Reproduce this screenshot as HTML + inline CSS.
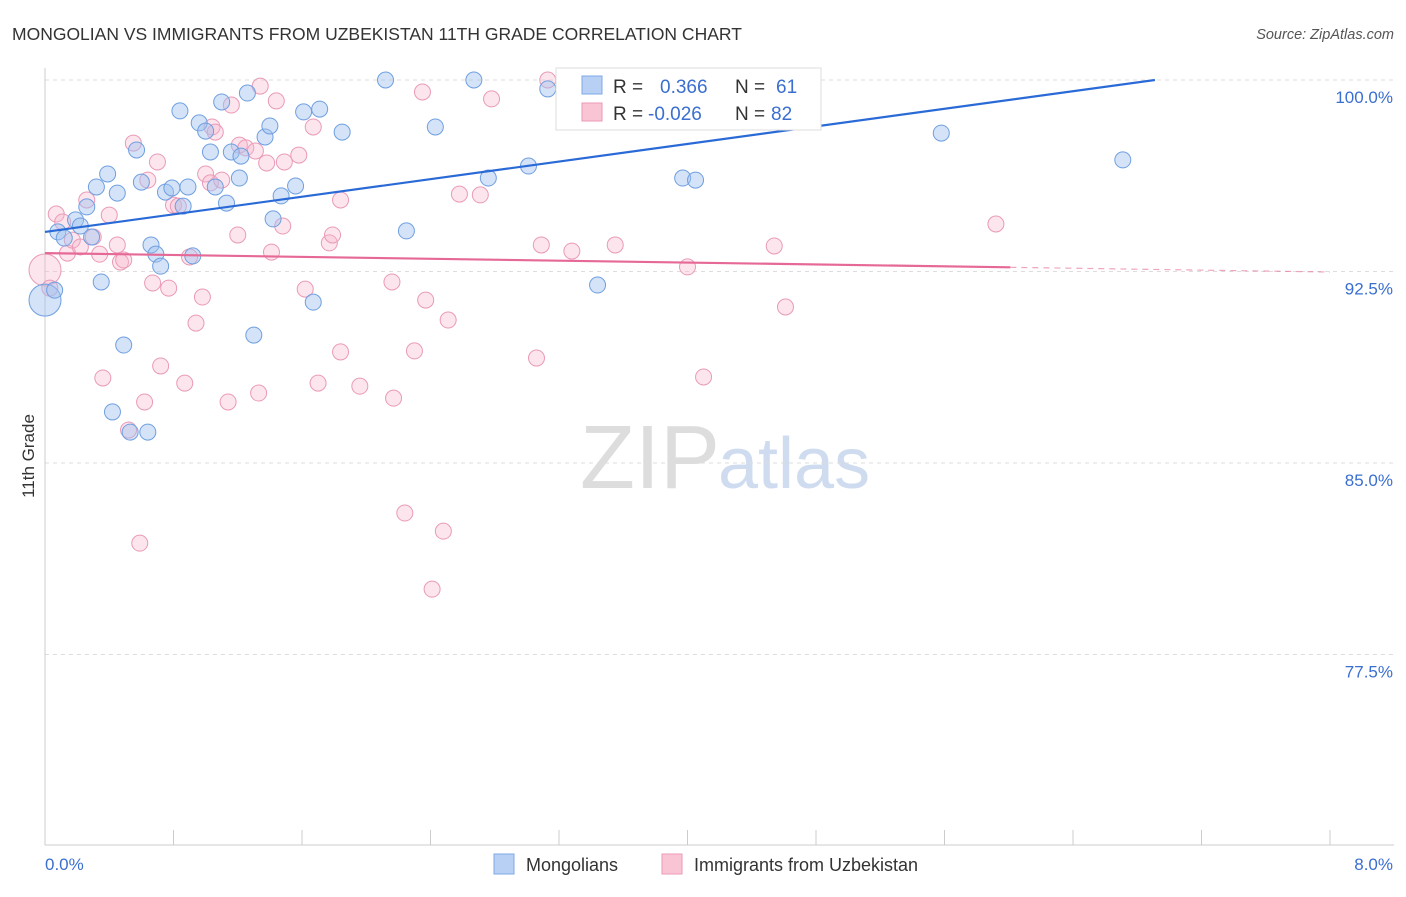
<!DOCTYPE html>
<html><head><meta charset="utf-8"><style>
body{margin:0;background:#fff;font-family:"Liberation Sans",sans-serif;}
svg text{font-family:"Liberation Sans",sans-serif;}
</style></head><body>
<svg id="chart" width="1406" height="892" xmlns="http://www.w3.org/2000/svg">
<text x="12" y="40" font-size="17.5" fill="#333">MONGOLIAN VS IMMIGRANTS FROM UZBEKISTAN 11TH GRADE CORRELATION CHART</text>
<text x="1394" y="39" font-size="14.5" fill="#555" font-style="italic" text-anchor="end">Source: ZipAtlas.com</text>
<text x="720" y="488" font-size="90" fill="#ddd" text-anchor="end" font-family="Liberation Serif">ZIP</text>
<text x="718" y="488" font-size="72" fill="#cfdcf0">atlas</text>
<text transform="translate(34,456) rotate(-90)" font-size="17" fill="#333" text-anchor="middle">11th Grade</text>
<g id="grid"></g><g id="marks"></g><g id="trends"></g>
<g>
<rect x="556" y="68" width="265" height="62" fill="#fff" stroke="#ddd"/>
<rect x="582" y="76" width="20" height="18" fill="#b7d0f3" stroke="#7fa8e6"/>
<rect x="582" y="103" width="20" height="18" fill="#f9c5d5" stroke="#ec9ab6"/>
<text x="613" y="93" font-size="19" fill="#333">R =</text><text x="660" y="93" font-size="19" fill="#3a6fd0">0.366</text>
<text x="735" y="93" font-size="19" fill="#333">N =</text><text x="776" y="93" font-size="19" fill="#3a6fd0">61</text>
<text x="613" y="120" font-size="19" fill="#333">R =</text><text x="648" y="120" font-size="19" fill="#3a6fd0">-0.026</text>
<text x="735" y="120" font-size="19" fill="#333">N =</text><text x="771" y="120" font-size="19" fill="#3a6fd0">82</text>
</g>
<g>
<rect x="494" y="854" width="20" height="20" fill="#b7d0f3" stroke="#7fa8e6"/>
<text x="526" y="871" font-size="18" fill="#333">Mongolians</text>
<rect x="662" y="854" width="20" height="20" fill="#f9c5d5" stroke="#ec9ab6"/>
<text x="694" y="871" font-size="18" fill="#333">Immigrants from Uzbekistan</text>
</g>
<text x="45" y="870" font-size="17" fill="#3a6fd0">0.0%</text>
<text x="1393" y="870" font-size="17" fill="#3a6fd0" text-anchor="end">8.0%</text>
</svg>
<script>
const yTicks=[100,92.5,85,77.5];
const yTickLabels=["100.0%","92.5%","85.0%","77.5%"];
const xTicks=[0,0.8,1.6,2.4,3.2,4,4.8,5.6,6.4,7.2,8];
const blueX=[0.00,0.06,0.08,0.12,0.19,0.22,0.26,0.29,0.32,0.35,0.39,0.42,0.45,0.49,0.53,0.57,0.60,0.64,0.66,0.69,0.72,0.75,0.79,0.84,0.86,0.89,0.92,0.96,1.00,1.03,1.06,1.10,1.13,1.16,1.21,1.22,1.26,1.30,1.37,1.40,1.42,1.47,1.56,1.61,1.67,1.71,1.85,2.12,2.25,2.43,2.67,2.76,3.01,3.13,3.44,3.97,4.05,5.58,6.71];
const blueY=[91.38,91.77,94.05,93.81,94.52,94.28,95.03,93.85,95.81,92.09,96.32,87.00,95.57,89.62,86.21,97.26,96.00,86.21,93.54,93.18,92.71,95.61,95.77,98.79,95.06,95.81,93.11,98.32,98.00,97.18,95.81,99.14,95.18,97.18,96.16,97.02,99.49,90.01,97.77,98.20,94.56,95.46,95.85,98.75,91.30,98.86,97.96,100.00,94.09,98.16,100.00,96.16,96.63,99.65,91.97,96.16,96.08,97.92,96.87];
const pinkX=[0.00,0.03,0.07,0.11,0.14,0.17,0.22,0.26,0.30,0.34,0.36,0.40,0.45,0.47,0.49,0.52,0.55,0.59,0.62,0.64,0.67,0.70,0.72,0.77,0.80,0.83,0.87,0.90,0.94,0.98,1.00,1.03,1.04,1.06,1.10,1.14,1.16,1.20,1.21,1.25,1.31,1.33,1.34,1.38,1.41,1.44,1.48,1.49,1.58,1.62,1.67,1.70,1.77,1.79,1.84,1.84,1.96,2.16,2.17,2.24,2.30,2.35,2.37,2.41,2.48,2.51,2.58,2.71,2.78,3.06,3.09,3.13,3.28,3.55,4.00,4.02,4.10,4.54,4.61,5.92];
const pinkY=[92.56,91.85,94.75,94.44,93.22,93.73,93.46,95.30,93.85,93.18,88.33,94.71,93.54,92.87,92.95,86.29,97.53,81.86,87.39,96.08,92.05,96.79,88.80,91.85,95.10,95.06,88.13,93.07,90.48,91.50,96.32,95.97,98.16,97.96,96.08,87.39,99.02,93.93,97.45,97.34,97.22,87.74,99.76,96.75,93.26,99.18,94.28,96.79,97.06,91.81,98.16,88.13,93.62,93.93,95.30,89.35,88.01,92.09,87.54,83.04,89.39,99.53,91.38,80.06,82.33,90.60,95.53,95.50,99.26,89.11,93.54,100.00,93.30,93.54,92.68,99.92,88.37,93.50,91.11,94.36];
const blueTrend=[94.05,100.0];
const blueTrendX=[0,6.91];
const pinkTrend=[93.22,92.48];
const pinkTrendX=[0,8];
const pinkSolidEnd=6.01;
const NS="http://www.w3.org/2000/svg";
const X=v=>45+v/8*1285;
const Y=v=>80+(100-v)/7.5*191.5;
function mk(tag,attrs,parent){const e=document.createElementNS(NS,tag);for(const k in attrs)e.setAttribute(k,attrs[k]);document.getElementById(parent).appendChild(e);return e;}
yTicks.forEach((t,i)=>{
 const l=mk('line',{x1:45,x2:1394,y1:Y(t),y2:Y(t),stroke:'#ddd','stroke-dasharray':'4,4'},'grid');
 
 
 const tx=mk('text',{x:1393,y:Y(t)+23,'font-size':17,fill:'#3a6fd0','text-anchor':'end'},'grid');
 tx.textContent=yTickLabels[i];
 
 
});
const ya=mk('line',{x1:45,x2:45,y1:68,y2:845,stroke:'#ccc'},'grid');


const xa=mk('line',{x1:45,x2:1394,y1:845,y2:845,stroke:'#ccc'},'grid');


xTicks.forEach(t=>{
 const l=mk('line',{x1:X(t),x2:X(t),y1:830,y2:845,stroke:'#ccc'},'grid');
 
 
});
function pts(xs,ys,fill,stroke,name){
 xs.forEach((x,i)=>{
  const big=(i===0);
  const c=mk('circle',{cx:X(x),cy:Y(ys[i]),r:big?16:8,fill:fill,stroke:stroke,'stroke-width':1},'marks');
  
  
 });
}
pts(pinkX,pinkY,'rgba(246,180,202,0.35)','#ea9ab8','point-uzbekistan');
pts(blueX,blueY,'rgba(160,194,240,0.45)','#6f9fe0','point-mongolian');
const bt=mk('line',{x1:X(blueTrendX[0]),y1:Y(blueTrend[0]),x2:X(blueTrendX[1]),y2:Y(blueTrend[1]),stroke:'#2a6ad6','stroke-width':2.2},'trends');


const py=x=>pinkTrend[0]+(pinkTrend[1]-pinkTrend[0])*(x-pinkTrendX[0])/(pinkTrendX[1]-pinkTrendX[0]);
const pt=mk('line',{x1:X(0),y1:Y(py(0)),x2:X(pinkSolidEnd),y2:Y(py(pinkSolidEnd)),stroke:'#e66896','stroke-width':2.2},'trends');


const pd=mk('line',{x1:X(pinkSolidEnd),y1:Y(py(pinkSolidEnd)),x2:X(8),y2:Y(py(8)),stroke:'#e66896','stroke-width':1.2,'stroke-dasharray':'6,5',opacity:0.6},'trends');


</script>
</body></html>
